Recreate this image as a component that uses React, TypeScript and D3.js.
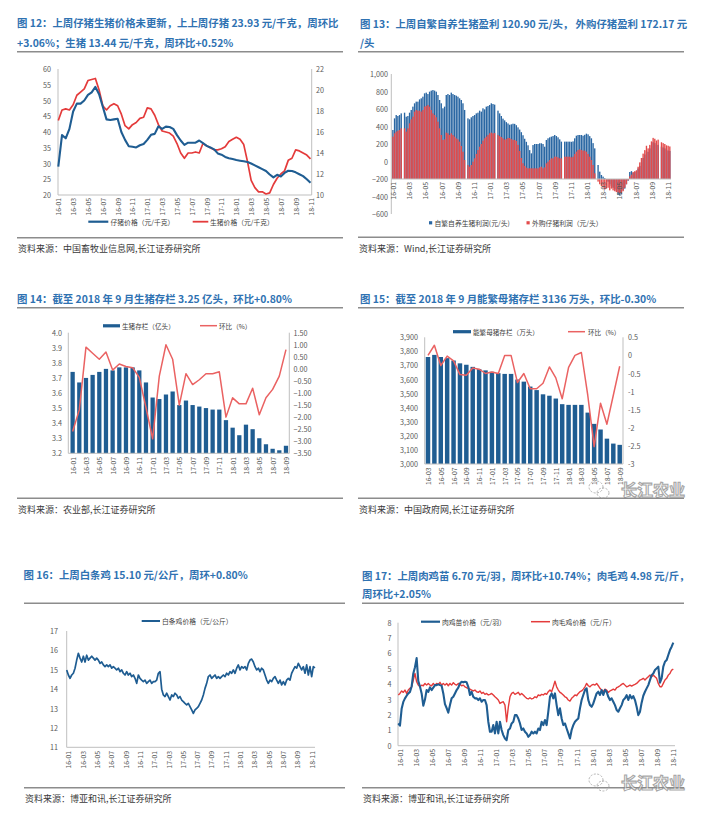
import React from 'react';
import * as d3 from 'd3';

const FONT = '"Noto Sans CJK SC","Noto Sans",sans-serif';
const TITLE_COLOR = '#2F72B2';
const AXIS_TEXT = '#595959';
const AXIS_LINE = '#BFBFBF';
const RULE = '#8C8C8C';
const BLUE = '#1F5D92';
const RED = '#E43B3B';
const LIGHT_RED = '#EA6262';
const BAR_BLUE = '#2A67A3';
const BAR_RED = '#E34B4B';

// ---------- Chart 12: piglet / live hog price (half-month samples from 16-01) ----------
const labels12 = ['16-01','16-03','16-05','16-07','16-09','16-11','17-01','17-03','17-05','17-07','17-09','17-11','18-01','18-03','18-05','18-07','18-09','18-11'];
const piglet12 = [29,39,38,41,46.5,49,49,50,51.8,52.6,54.3,52,48,44,43.8,44,44.2,40,37.5,35.5,35.3,35.1,35.8,36.2,37.5,39.1,39.4,41.8,41,41.7,41.6,41,39,37.3,35.9,36.6,36.6,36.6,37.3,36.5,35.6,35.1,34.5,33.2,32.8,32.1,31.7,31.4,31.1,30.9,30.7,30.5,30,29.4,28.8,28.2,27.6,26.5,25.6,26.4,25.9,27,27.7,27.6,27.2,26.6,26,25,23.9];
const hog12 = [17.1,18.1,18.2,18.1,18.6,19.5,19.8,20.1,20.9,21,21.1,20,18.5,18.1,18.5,18.7,18.5,17.7,16.6,16.3,16.7,16.9,17.3,17.4,18.3,18.2,17.6,16.7,16.1,16,15.9,15.6,14.9,14,13.5,14,14,14.1,14,14.9,14.7,14.5,14.3,14.3,14.4,14.6,15.1,15.3,15.5,15.3,14.8,13.2,11.4,10.7,10.3,10.3,10.1,10.2,11,11.6,12,12.3,13.3,13.5,14.3,14.2,14,13.8,13.44];
const ticksL12 = [20,25,30,35,40,45,50,55,60];
const ticksR12 = [10,12,14,16,18,20,22];

// ---------- Chart 13: weekly profit (null = missing week) ----------
const labels13 = labels12;
const selfBred13 = [360,493,531,520,531,550,null,558,512,520,558,589,627,665,684,684,710,722,741,779,787,771,798,810,817,810,798,760,703,665,608,627,760,771,760,787,771,760,752,741,722,703,665,589,null,493,482,505,520,531,550,558,581,570,608,596,627,634,646,665,657,650,null,581,550,520,490,470,450,435,420,425,432,430,415,390,365,335,300,260,225,185,130,93,188,200,200,200,208,208,200,169,246,265,276,284,291,303,291,276,253,227,null,227,227,227,227,225,230,265,295,303,303,303,295,305,318,310,290,265,210,150,null,-40,-116,-154,-173,-190,-200,-230,-260,-280,-300,-320,-340,-380,-390,-370,-330,-310,-260,-220,-120,-110,-130,-120,-110,-80,-50,-10,40,80,120,110,150,180,220,210,190,190,null,170,160,150,135,125,121];
const bought13 = [284,322,341,352,360,379,null,379,341,379,436,482,512,570,589,581,581,570,589,627,634,646,627,589,550,531,505,455,379,303,246,253,330,322,303,322,303,284,265,253,227,177,112,17,null,-40,-59,-40,-2,36,86,131,169,200,238,265,284,303,322,330,322,325,null,303,290,280,265,250,255,270,268,255,248,246,235,190,120,40,-20,-50,-70,-78,-78,-78,-78,-78,-78,-78,-67,-59,-78,-67,-21,-2,17,36,36,55,55,47,36,36,null,55,55,55,55,47,55,86,112,131,139,131,124,124,112,86,55,17,-40,-135,null,-230,-260,-280,-300,-320,-310,-300,-330,-310,-330,-340,-350,-355,-365,-360,-340,-300,-260,-215,-170,-150,-120,-110,-100,-60,-10,40,90,130,180,150,190,230,270,260,240,250,null,220,210,200,185,180,172];
const ticks13 = [-600,-400,-200,0,200,400,600,800,1000];

// ---------- Chart 14: hog inventory monthly 16-01..18-09 ----------
const labels14 = ['16-01','16-03','16-05','16-07','16-09','16-11','17-01','17-03','17-05','17-07','17-09','17-11','18-01','18-03','18-05','18-07','18-09'];
const stock14 = [3.74,3.67,3.70,3.72,3.74,3.76,3.75,3.77,3.77,3.77,3.75,3.67,3.57,3.56,3.59,3.61,3.52,3.55,3.52,3.51,3.50,3.49,3.49,3.42,3.37,3.32,3.39,3.36,3.30,3.26,3.23,3.22,3.25];
const mom14 = [-2.6,-1.7,0.9,0.65,0.4,0.7,-0.05,0.2,0.1,0.05,-0.35,-1.6,-2.9,-0.3,1.0,0.4,-1.5,-0.2,-0.65,-0.45,-0.2,-0.2,-0.12,-2.0,-1.2,-1.45,-1.45,-0.8,-1.9,-1.2,-0.85,-0.3,0.8];
const ticksL14 = [3.2,3.3,3.4,3.5,3.6,3.7,3.8,3.9,4.0];
const ticksR14 = [-3.5,-3,-2.5,-2,-1.5,-1,-0.5,0,0.5,1,1.5];

// ---------- Chart 15: sow inventory monthly 16-03..18-09 ----------
const labels15 = ['16-03','16-05','16-07','16-09','16-11','17-01','17-03','17-05','17-07','17-09','17-11','18-01','18-03','18-05','18-07','18-09'];
const sows15 = [3760,3775,3760,3752,3735,3715,3705,3690,3675,3665,3655,3645,3640,3640,3600,3585,3550,3525,3495,3485,3465,3425,3420,3420,3420,3365,3285,3245,3180,3145,3136];
const mom15 = [0,0.28,-0.28,-0.02,-0.15,-0.53,-0.55,-0.35,-0.38,-0.5,-0.46,-0.5,0,0,-0.75,-0.5,-0.92,-0.92,-0.77,-0.32,-0.62,-1.2,-0.33,0,0.08,-1.1,-2.52,-1.32,-1.9,-1.1,-0.3];
const ticksL15 = [3000,3100,3200,3300,3400,3500,3600,3700,3800,3900];
const ticksR15 = [-3,-2.5,-2,-1.5,-1,-0.5,0,0.5];

// ---------- Chart 16: white-strip chicken price (weekly samples) ----------
const labels16 = labels12;
const chicken16 = [
  14.99,14.73,14.56,14.73,14.82,15.08,15.5,15.85,15.6,15.4,
  15.7,15.4,15.75,15.5,15.6,15.7,15.6,15.5,15.6,15.5,
  15.33,15.4,15.25,15.16,15.25,15.16,15.25,15.08,15.16,15.08,
  14.99,15.08,14.9,14.99,14.82,14.73,14.9,14.73,14.82,14.65,
  14.73,14.56,14.3,14.73,14.56,14.47,14.39,14.47,14.3,14.39,
  14.47,14.3,14.39,14.39,14.47,14.82,14.9,14.0,13.7,13.62,
  13.79,13.62,13.44,13.7,13.62,13.79,13.7,13.53,13.62,13.44,
  13.36,13.27,13.19,13.27,13.1,12.93,12.75,12.93,13.01,13.1,
  13.27,13.44,13.7,14.04,14.3,14.65,14.73,14.56,14.65,14.73,
  14.56,14.65,14.56,14.65,14.73,14.65,14.82,14.73,14.9,14.82,
  14.99,14.82,15.08,15.25,14.99,15.16,15.08,15.16,14.99,15.33,
  15.5,15.55,15.4,15.16,14.99,15.08,14.9,15.08,14.99,14.73,
  14.47,14.3,14.47,14.39,14.56,14.65,14.47,14.3,14.47,14.22,
  14.39,14.22,14.47,14.56,14.47,14.82,14.99,15.16,15.08,15.33,
  15.16,14.99,15.16,14.82,15.25,14.73,15.16,14.65,15.16,15.10
];
const ticks16 = [11,12,13,14,15,16,17];

// ---------- Chart 17: chick / broiler price (weekly samples) ----------
const labels17 = labels12;
const chick17 = [
  1.45,1.3,2.4,2.85,3.08,3.25,3.4,3.5,3.85,4.7,
  5.1,5.7,4.2,3.85,3.4,2.6,3.0,3.62,3.5,3.8,
  3.62,3.77,3.94,3.94,3.99,3.94,3.9,3.4,2.7,2.45,
  2.15,2.64,3.08,3.18,3.4,3.62,3.77,4.05,4.16,4.12,
  4.16,4.12,3.83,3.3,3.51,3.18,3.08,3.08,2.97,3.08,
  2.86,2.97,2.97,2.64,1.56,0.91,0.91,1.34,0.8,1.56,
  0.8,1.56,1.02,0.69,0.47,0.36,1.02,1.12,1.45,1.56,
  1.99,1.99,1.77,1.45,1.02,1.12,0.91,0.8,0.58,0.69,
  0.91,0.8,0.91,0.8,1.12,1.02,1.56,1.34,1.67,1.34,
  2.21,3.18,3.4,3.08,3.4,2.64,1.99,2.43,1.77,1.34,
  1.45,1.12,0.8,0.47,1.02,1.34,1.56,1.67,1.77,2.43,
  2.97,3.3,3.62,3.73,2.97,2.64,2.53,2.75,3.08,3.4,
  3.51,3.3,3.62,3.3,3.62,3.51,3.18,2.97,3.08,2.86,
  2.64,2.32,2.21,2.43,2.64,2.97,3.08,
  3.29,2.97,3.29,3.08,3.23,2.97,2.53,1.99,2.21,2.8,
  3.25,3.51,3.73,3.94,4.27,4.59,4.7,4.92,5.03,5.14,
  4.1,4.38,5.14,5.46,5.57,5.9,6.22,6.44,6.7
];
const broiler17 = [
  3.3,3.4,3.56,3.47,3.62,3.4,3.62,3.73,3.83,4.27,
  4.7,4.16,3.94,3.83,3.94,3.9,4.05,3.94,4.05,3.94,
  3.9,4.05,3.94,4.05,3.99,4.12,3.94,4.05,3.94,4.05,
  3.9,4.05,3.94,4.1,3.99,3.94,4.05,3.99,3.9,3.94,
  3.83,3.77,3.73,3.68,3.62,3.56,3.62,3.51,3.47,3.56,
  3.4,3.47,3.34,3.4,3.3,3.34,3.4,3.3,3.18,3.08,
  2.97,2.75,2.82,2.86,2.64,1.56,2.5,3.18,3.4,3.47,
  3.34,3.4,3.47,3.3,3.4,3.3,3.18,3.08,3.04,3.12,
  3.04,3.08,3.18,3.12,3.3,3.25,3.34,3.3,3.4,3.34,
  3.51,3.62,3.51,3.83,4.2,3.83,3.62,3.47,3.4,3.3,
  3.18,3.12,2.97,2.9,3.08,3.18,3.3,3.25,3.4,3.51,
  3.56,3.68,3.83,4.05,3.9,3.83,3.94,3.99,3.94,4.05,
  3.9,3.73,3.62,3.51,3.68,3.62,3.47,3.56,3.62,3.68,
  3.62,3.77,3.83,3.9,3.99,4.05,3.94,
  3.83,3.88,3.94,3.88,3.94,3.99,4.05,4.16,4.27,4.31,
  4.38,4.27,4.38,4.49,4.59,4.49,4.59,4.49,4.38,4.05,
  3.83,3.83,4.05,4.27,4.38,4.59,4.7,4.92,4.98
];
const ticks17 = [0,1,2,3,4,5,6,7,8];

// ---------- shared bits ----------
const txt = (size: number, color: string, weight: any = 'normal') => ({ fontFamily: FONT, fontSize: size, fill: color, fontWeight: weight });

function Header({ x, lines, rule, ys }: { x: number; lines: string[]; rule: [number, number, number]; ys: number[] }) {
  return (
    <g>
      {lines.map((l, i) => (
        <text key={i} x={x} y={ys[i]} dominantBaseline="central" style={txt(10.4, TITLE_COLOR, 'bold')}>{l}</text>
      ))}
      <line x1={rule[0]} x2={rule[1]} y1={rule[2]} y2={rule[2]} stroke={RULE} strokeWidth={1.6} />
    </g>
  );
}

function Footer({ x1, x2, y, text }: { x1: number; x2: number; y: number; text: string }) {
  return (
    <g>
      <line x1={x1} x2={x2} y1={y} y2={y} stroke={RULE} strokeWidth={1.6} />
      <text x={x1 + 1} y={y + 11} dominantBaseline="central" style={txt(9, '#3a3a3a')}>{text}</text>
    </g>
  );
}

function XLabels({ items, y }: { items: { x: number; t: string }[]; y: number }) {
  return (
    <g>
      {items.map((d, i) => (
        <text key={i} transform={`translate(${d.x},${y}) rotate(-90)`} textAnchor="end" dominantBaseline="central" style={txt(6.8, AXIS_TEXT)}>{d.t}</text>
      ))}
    </g>
  );
}

function YLabels({ ticks, scale, x, anchor, fmt }: { ticks: number[]; scale: any; x: number; anchor: string; fmt: (v: number) => string }) {
  return (
    <g>
      {ticks.map((t, i) => (
        <text key={i} x={x} y={scale(t)} textAnchor={anchor as any} dominantBaseline="central" style={txt(7.2, AXIS_TEXT)}>{fmt(t)}</text>
      ))}
    </g>
  );
}

function VLine({ x, y1, y2 }: { x: number; y1: number; y2: number }) {
  return <line x1={x} x2={x} y1={y1} y2={y2} stroke={AXIS_LINE} strokeWidth={1} />;
}
function HLine({ y, x1, x2 }: { y: number; x1: number; x2: number }) {
  return <line x1={x1} x2={x2} y1={y} y2={y} stroke={AXIS_LINE} strokeWidth={1} />;
}

function Watermark({ x, y }: { x: number; y: number }) {
  return (
    <g opacity={0.75}>
      <ellipse cx={x + 8} cy={y - 2} rx={7} ry={6} fill="none" stroke="#9a9a9a" strokeWidth={1} strokeDasharray="2 1.5" />
      <ellipse cx={x + 15} cy={y + 4} rx={6} ry={5} fill="none" stroke="#9a9a9a" strokeWidth={1} strokeDasharray="2 1.5" />
      <text x={x + 33} y={y} dominantBaseline="central" style={{ fontFamily: FONT, fontSize: 16, fontWeight: 'bold', fill: '#ffffff', stroke: '#8a8a8a', strokeWidth: 1.1 }}>长江农业</text>
    </g>
  );
}

// ---------- Chart 12 ----------
function Chart12() {
  const x = d3.scaleLinear().domain([0, 34]).range([58.3, 310.5]);
  const yL = d3.scaleLinear().domain([20, 60]).range([195, 69]);
  const yR = d3.scaleLinear().domain([10, 22]).range([195, 69]);
  const months = piglet12.map((_, i) => i / 2);
  const l1 = d3.line<number>().x((_, i) => x(months[i])).y(d => yL(d));
  const l2 = d3.line<number>().x((_, i) => x(months[i])).y(d => yR(d));
  return (
    <g>
      <Header x={17} lines={['图 12：上周仔猪生猪价格未更新，上上周仔猪 23.93 元/千克，周环比', '+3.06%；生猪 13.44 元/千克，周环比+0.52%']} ys={[22.7, 42.7]} rule={[17, 343, 51.7]} />
      <VLine x={58} y1={69} y2={195} />
      <VLine x={311.7} y1={69} y2={195} />
      <HLine y={195} x1={58} x2={311.7} />
      <YLabels ticks={ticksL12} scale={yL} x={51} anchor="end" fmt={d3.format('d')} />
      <YLabels ticks={ticksR12} scale={yR} x={316} anchor="start" fmt={d3.format('d')} />
      <path d={l2(hog12) || ''} fill="none" stroke={RED} strokeWidth={1.7} strokeLinejoin="round" />
      <path d={l1(piglet12) || ''} fill="none" stroke={BLUE} strokeWidth={2.1} strokeLinejoin="round" />
      <XLabels items={labels12.map((t, i) => ({ x: x(i * 2), t }))} y={198} />
      <line x1={88.3} x2={108.3} y1={221.7} y2={221.7} stroke={BLUE} strokeWidth={2.2} />
      <text x={110.5} y={221.7} dominantBaseline="central" style={txt(6.8, '#404040')}>仔猪价格（元/千克）</text>
      <line x1={192.7} x2={208.3} y1={221.7} y2={221.7} stroke={RED} strokeWidth={1.8} />
      <text x={210} y={221.7} dominantBaseline="central" style={txt(6.8, '#404040')}>生猪价格（元/千克）</text>
      <Footer x1={17} x2={343} y={237.7} text="资料来源：中国畜牧业信息网,长江证券研究所" />
    </g>
  );
}

// ---------- Chart 13 ----------
function Chart13() {
  const idx = selfBred13.map((_, i) => i);
  const x = d3.scaleBand<number>().domain(idx).range([392.2, 670.5]).paddingInner(0.18);
  const m = d3.scaleLinear().domain([0, 34]).range([393, 668]);
  const y = d3.scaleLinear().domain([-600, 1000]).range([214, 74]);
  const base = y(-200);
  const bar = (v: number | null, i: number, color: string) => {
    if (v == null) return null;
    const yy = y(v);
    return <rect key={i} x={x(i)} width={x.bandwidth()} y={Math.min(yy, base)} height={Math.abs(yy - base)} fill={color} />;
  };
  return (
    <g>
      <Header x={360} lines={['图 13：上周自繁自养生猪盈利 120.90 元/头， 外购仔猪盈利 172.17 元', '/头']} ys={[23.3, 42.7]} rule={[358, 684, 51.7]} />
      <VLine x={391.3} y1={74} y2={214} />
      <YLabels ticks={ticks13} scale={y} x={388} anchor="end" fmt={d3.format(',')} />
      {selfBred13.map((v, i) => bar(v, i, BAR_BLUE))}
      {bought13.map((v, i) => bar(v, i, BAR_RED))}
      <HLine y={base} x1={391.3} x2={671} />
      <XLabels items={labels13.map((t, i) => ({ x: m(i * 2), t }))} y={182} />
      <rect x={429} y={221.2} width={3.2} height={3.2} fill={BAR_BLUE} />
      <text x={434.5} y={222.7} dominantBaseline="central" style={txt(6.8, '#404040')}>自繁自养生猪利润(元/头)</text>
      <rect x={526.5} y={221.2} width={3.2} height={3.2} fill={BAR_RED} />
      <text x={532} y={222.7} dominantBaseline="central" style={txt(6.8, '#404040')}>外购仔猪利润（元/头）</text>
      <Footer x1={358} x2={684} y={237.3} text="资料来源：Wind,长江证券研究所" />
    </g>
  );
}

// ---------- Chart 14 ----------
function Chart14() {
  const idx = stock14.map((_, i) => i);
  const x = d3.scaleBand<number>().domain(idx).range([69.3, 289.3]).paddingInner(0.36).paddingOuter(0.18);
  const yL = d3.scaleLinear().domain([3.2, 4.0]).range([453.3, 332.7]);
  const yR = d3.scaleLinear().domain([-3.5, 1.5]).range([453.3, 332.7]);
  const cx = (i: number) => (x(i) as number) + x.bandwidth() / 2;
  const line = d3.line<number>().x((_, i) => cx(i)).y(d => yR(d));
  return (
    <g>
      <Header x={17} lines={['图 14：截至 2018 年 9 月生猪存栏 3.25 亿头，环比+0.80%']} ys={[298.3]} rule={[17, 343, 307.7]} />
      <VLine x={68.3} y1={332.7} y2={453.3} />
      <VLine x={289.3} y1={332.7} y2={453.3} />
      <YLabels ticks={ticksL14} scale={yL} x={62} anchor="end" fmt={d3.format('.1f')} />
      <YLabels ticks={ticksR14} scale={yR} x={293.5} anchor="start" fmt={d3.format('.2f')} />
      {stock14.map((v, i) => (
        <rect key={i} x={x(i)} width={x.bandwidth()} y={yL(v)} height={453.3 - yL(v)} fill={BLUE} />
      ))}
      <HLine y={453.3} x1={68.3} x2={289.3} />
      <path d={line(mom14) || ''} fill="none" stroke={LIGHT_RED} strokeWidth={1.5} strokeLinejoin="round" />
      <XLabels items={labels14.map((t, i) => ({ x: cx(i * 2), t }))} y={457} />
      <rect x={103} y={324.2} width={17} height={3.2} fill={BLUE} />
      <text x={122} y={325.7} dominantBaseline="central" style={txt(6.6, '#404040')}>生猪存栏（亿头）</text>
      <line x1={200} x2={217} y1={325.7} y2={325.7} stroke={LIGHT_RED} strokeWidth={1.5} />
      <text x={219} y={325.7} dominantBaseline="central" style={txt(6.6, '#404040')}>环比（%）</text>
      <Footer x1={17} x2={343} y={498.3} text="资料来源：农业部,长江证券研究所" />
    </g>
  );
}

// ---------- Chart 15 ----------
function Chart15() {
  const idx = sows15.map((_, i) => i);
  const x = d3.scaleBand<number>().domain(idx).range([424.8, 622.9]).paddingInner(0.3).paddingOuter(0.15);
  const yL = d3.scaleLinear().domain([3000, 3900]).range([464, 337.3]);
  const yR = d3.scaleLinear().domain([-3, 0.5]).range([464, 337.3]);
  const cx = (i: number) => (x(i) as number) + x.bandwidth() / 2;
  const line = d3.line<number>().x((_, i) => cx(i)).y(d => yR(d));
  return (
    <g>
      <Header x={360} lines={['图 15：截至 2018 年 9 月能繁母猪存栏 3136 万头，环比-0.30%']} ys={[298.3]} rule={[358, 684, 307.7]} />
      <VLine x={424.7} y1={337.3} y2={464} />
      <VLine x={623} y1={337.3} y2={464} />
      <YLabels ticks={ticksL15} scale={yL} x={418} anchor="end" fmt={d3.format(',')} />
      <YLabels ticks={ticksR15} scale={yR} x={628} anchor="start" fmt={(v: number) => String(v)} />
      {sows15.map((v, i) => (
        <rect key={i} x={x(i)} width={x.bandwidth()} y={yL(v)} height={464 - yL(v)} fill={BLUE} />
      ))}
      <HLine y={464} x1={424.7} x2={623} />
      <path d={line(mom15) || ''} fill="none" stroke={LIGHT_RED} strokeWidth={1.5} strokeLinejoin="round" />
      <XLabels items={labels15.map((t, i) => ({ x: cx(i * 2), t }))} y={467.5} />
      <rect x={453} y={330.1} width={18} height={3.2} fill={BLUE} />
      <text x={473} y={331.7} dominantBaseline="central" style={txt(6.6, '#404040')}>能繁母猪存栏（万头）</text>
      <line x1={568} x2={585} y1={331.7} y2={331.7} stroke={LIGHT_RED} strokeWidth={1.5} />
      <text x={588} y={331.7} dominantBaseline="central" style={txt(6.6, '#404040')}>环比（%）</text>
      <Footer x1={358} x2={684} y={498.3} text="资料来源：中国政府网,长江证券研究所" />
      <Watermark x={588} y={489} />
    </g>
  );
}

// ---------- Chart 16 ----------
function Chart16() {
  const x = d3.scaleLinear().domain([0, chicken16.length - 1]).range([66.7, 315]);
  const m = d3.scaleLinear().domain([0, 34]).range([68.3, 311.7]);
  const y = d3.scaleLinear().domain([11, 17]).range([747.3, 631]);
  const line = d3.line<number>().x((_, i) => x(i)).y(d => y(d));
  return (
    <g>
      <Header x={23.5} lines={['图 16：上周白条鸡 15.10 元/公斤，周环+0.80%']} ys={[574]} rule={[24, 345, 603.3]} />
      <VLine x={66.7} y1={631} y2={747.3} />
      <HLine y={747.3} x1={66.7} x2={315} />
      <YLabels ticks={ticks16} scale={y} x={58} anchor="end" fmt={d3.format('d')} />
      <path d={line(chicken16) || ''} fill="none" stroke={BLUE} strokeWidth={1.7} strokeLinejoin="round" />
      <XLabels items={labels16.map((t, i) => ({ x: m(i * 2), t }))} y={751} />
      <line x1={141.7} x2={160} y1={621} y2={621} stroke={BLUE} strokeWidth={2} />
      <text x={162} y={621} dominantBaseline="central" style={txt(6.8, '#404040')}>白条鸡价格（元/公斤）</text>
      <Footer x1={24} x2={345} y={787.7} text="资料来源：博亚和讯,长江证券研究所" />
    </g>
  );
}

// ---------- Chart 17 ----------
function Chart17() {
  const x = d3.scaleLinear().domain([0, chick17.length - 1]).range([398.3, 673.3]);
  const m = d3.scaleLinear().domain([0, 34]).range([399.7, 673]);
  const y = d3.scaleLinear().domain([0, 8]).range([745.7, 622.7]);
  const line = d3.line<number>().x((_, i) => x(i)).y(d => y(d));
  return (
    <g>
      <Header x={362} lines={['图 17：上周肉鸡苗 6.70 元/羽，周环比+10.74%；肉毛鸡 4.98 元/斤，', '周环比+2.05%']} ys={[575, 593.3]} rule={[362, 684, 603.3]} />
      <VLine x={398} y1={622.7} y2={745.7} />
      <HLine y={745.7} x1={398} x2={675} />
      <YLabels ticks={ticks17} scale={y} x={391.5} anchor="end" fmt={d3.format('d')} />
      <path d={line(broiler17) || ''} fill="none" stroke={RED} strokeWidth={1.4} strokeLinejoin="round" />
      <path d={line(chick17) || ''} fill="none" stroke={BLUE} strokeWidth={2.1} strokeLinejoin="round" />
      <XLabels items={labels17.map((t, i) => ({ x: m(i * 2), t }))} y={749} />
      <line x1={421} x2={440} y1={621.7} y2={621.7} stroke={BLUE} strokeWidth={2.2} />
      <text x={442} y={621.7} dominantBaseline="central" style={txt(6.8, '#404040')}>肉鸡苗价格（元/羽）</text>
      <line x1={531} x2={550} y1={621.7} y2={621.7} stroke={RED} strokeWidth={1.5} />
      <text x={552} y={621.7} dominantBaseline="central" style={txt(6.8, '#404040')}>肉毛鸡价格（元/斤）</text>
      <Footer x1={362} x2={684} y={787.7} text="资料来源：博亚和讯,长江证券研究所" />
      <Watermark x={588} y={782} />
    </g>
  );
}

export default function App() {
  return (
    <svg width={716} height={818} style={{ position: 'absolute', left: 0, top: 0, background: '#fff' }}>
      <rect width={716} height={818} fill="#fff" />
      <Chart12 />
      <Chart13 />
      <Chart14 />
      <Chart15 />
      <Chart16 />
      <Chart17 />
    </svg>
  );
}
